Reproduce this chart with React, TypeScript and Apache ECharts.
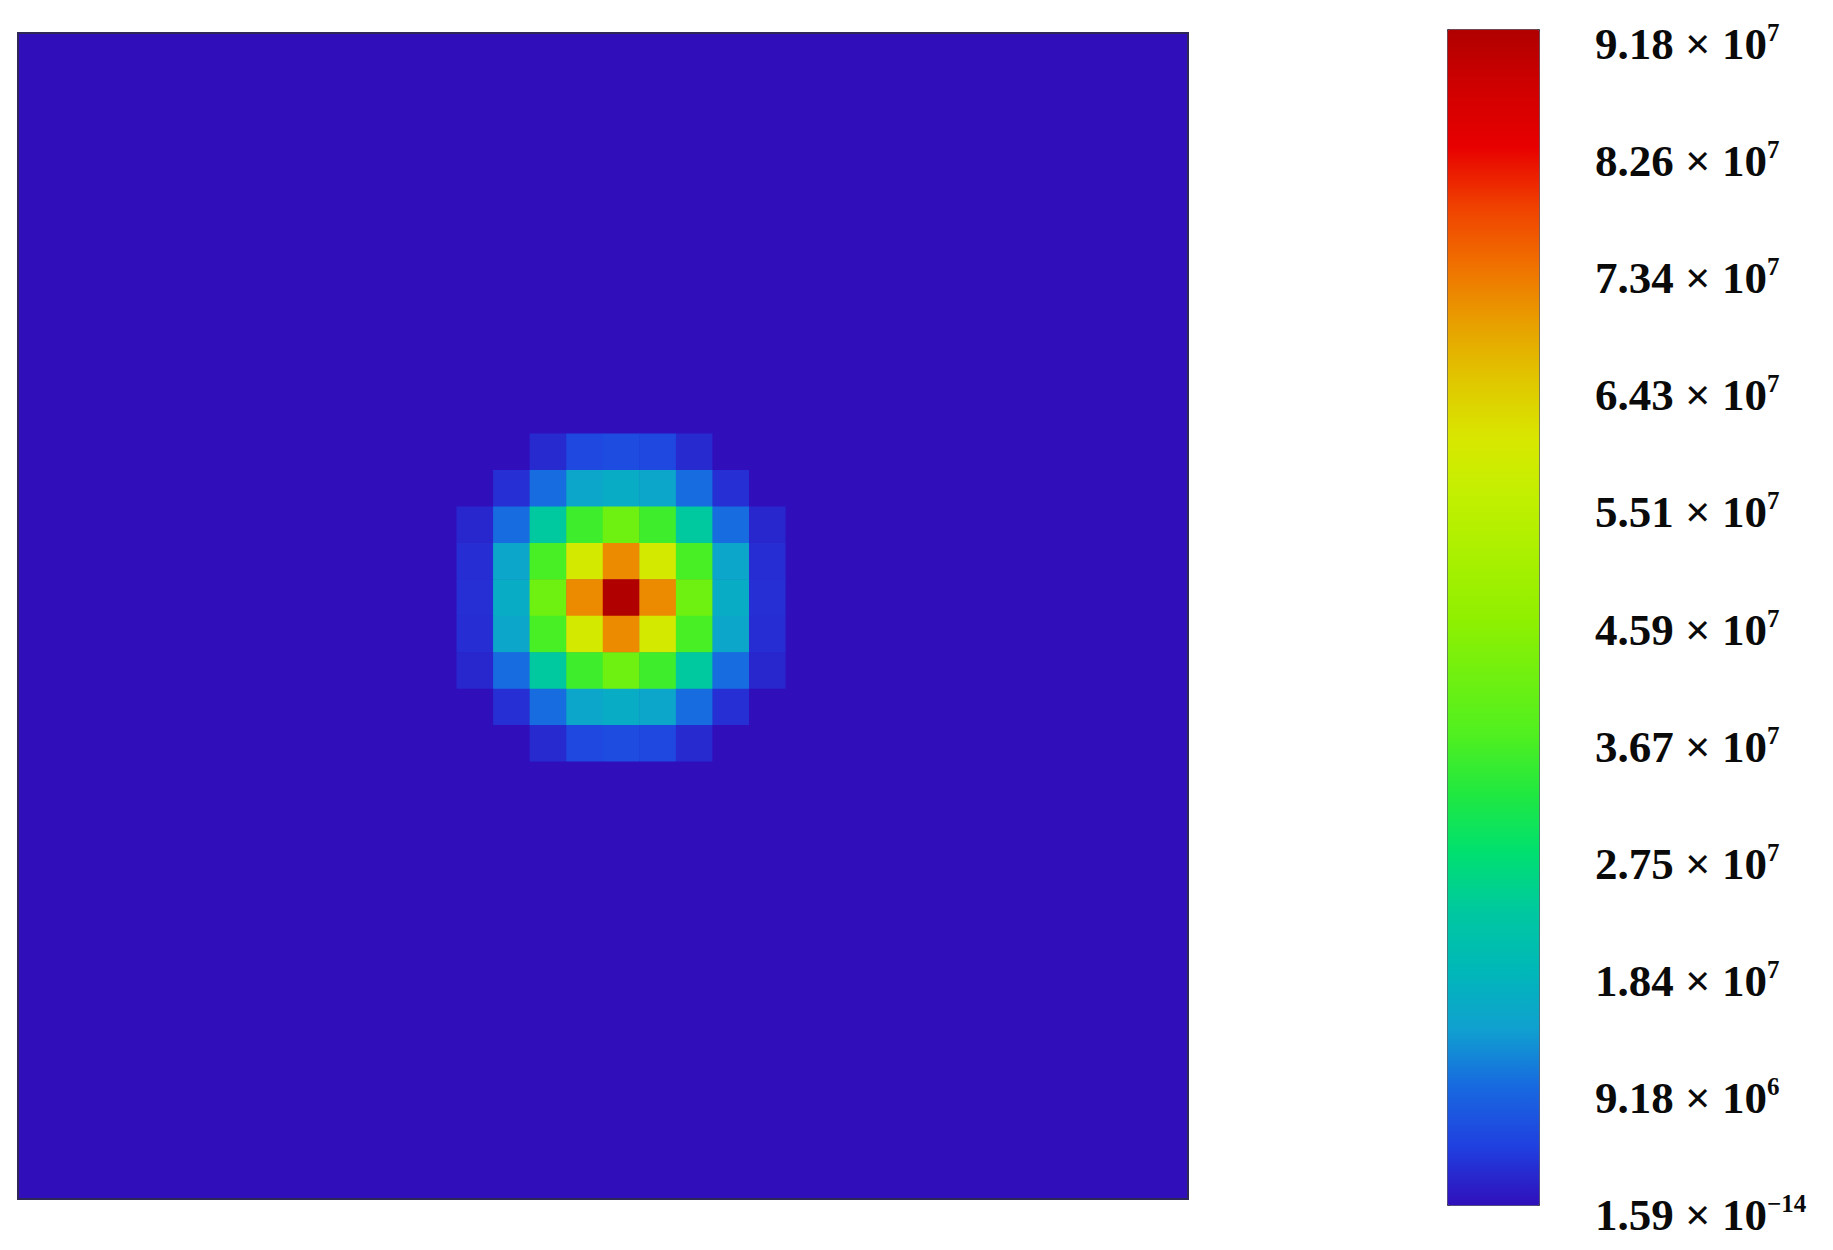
import React, { useEffect, useRef } from "react";
import * as echarts from "echarts";

// ---- data ----
const GRID_COLS = 32;
const GRID_ROWS = 32;
const BACKGROUND_VALUE = 1.59e-14; // minimum of the field
const MAX_VALUE = 9.18e7;
const BLOB_SCALE = 1e7;
// top-left cell (column index from left, row index from top) of the non-background block
const BLOB_COL0 = 12;
const BLOB_ROW0_FROM_TOP = 11;
// values in units of 1e7, rows listed top -> bottom, columns left -> right
const blobRow11 = [0, 0, 0.25, 0.55, 0.6, 0.55, 0.25, 0, 0];
const blobRow12 = [0, 0.3, 0.95, 1.5, 1.6, 1.5, 0.95, 0.3, 0];
const blobRow13 = [0.22, 0.95, 2.3, 3.5, 4.1, 3.5, 2.3, 0.95, 0.22];
const blobRow14 = [0.28, 1.5, 3.6, 5.9, 7.1, 5.9, 3.6, 1.5, 0.28];
const blobRow15 = [0.3, 1.6, 4.1, 7.1, 9.18, 7.1, 4.1, 1.6, 0.3];
const blobRow16 = [0.28, 1.5, 3.6, 5.9, 7.1, 5.9, 3.6, 1.5, 0.28];
const blobRow17 = [0.22, 0.95, 2.3, 3.5, 4.1, 3.5, 2.3, 0.95, 0.22];
const blobRow18 = [0, 0.3, 0.95, 1.5, 1.6, 1.5, 0.95, 0.3, 0];
const blobRow19 = [0, 0, 0.25, 0.55, 0.6, 0.55, 0.25, 0, 0];
const blobRows = [
  blobRow11, blobRow12, blobRow13, blobRow14, blobRow15,
  blobRow16, blobRow17, blobRow18, blobRow19,
];

// colour bar tick labels (bottom -> top)
const TICK_STEP = 9.18e6;
const tickMantissas = ["1.59", "9.18", "1.84", "2.75", "3.67", "4.59", "5.51", "6.43", "7.34", "8.26", "9.18"];
const tickExponents = ["\u221214", "6", "7", "7", "7", "7", "7", "7", "7", "7", "7"];

// colour map (evenly spaced from min to max)
const colorMap = [
  "#300fbb", "#2040e0", "#1868e0", "#10a0d0", "#00b8b8", "#00c8a0", "#00e070",
  "#20e840", "#50f020", "#70f010", "#90f000", "#a8f000", "#c0f000", "#d8e800",
  "#e0c800", "#e8a000", "#f07000", "#f04000", "#e80000", "#d00000", "#b00000",
];
const FIELD_BACKGROUND = colorMap[0];

const xCategories = Array.from({ length: GRID_COLS }, (_, i) => String(i));
const yCategories = Array.from({ length: GRID_ROWS }, (_, i) => String(i));

function buildHeatmapData(): [number, number, number][] {
  const out: [number, number, number][] = [];
  for (let rTop = 0; rTop < GRID_ROWS; rTop++) {
    for (let c = 0; c < GRID_COLS; c++) {
      let v = BACKGROUND_VALUE;
      const br = rTop - BLOB_ROW0_FROM_TOP;
      const bc = c - BLOB_COL0;
      if (br >= 0 && br < blobRows.length && bc >= 0 && bc < blobRows[br].length) {
        const b = blobRows[br][bc];
        if (b > 0) v = b * BLOB_SCALE;
      }
      out.push([c, GRID_ROWS - 1 - rTop, v]);
    }
  }
  return out;
}

const FONT = "'Liberation Serif', 'Times New Roman', serif";
const PLOT = { left: 18, top: 33, width: 1170, height: 1166 };

export default function App() {
  const ref = useRef<HTMLDivElement>(null);
  useEffect(() => {
    if (!ref.current) return;
    const chart = echarts.init(ref.current, undefined, { renderer: "svg" });
    chart.setOption({
      animation: false,
      backgroundColor: "#ffffff",
      grid: [
        // heatmap field (background under the cells)
        { ...PLOT, show: true, backgroundColor: FIELD_BACKGROUND, borderWidth: 0 },
        // colour bar labels
        { left: 1447, top: 44, width: 92, height: 1171 },
        // frame drawn over the cells
        {
          ...PLOT, show: true, z: 5, backgroundColor: "transparent",
          borderColor: "#2e2856", borderWidth: 2,
        },
      ],
      xAxis: [
        { type: "category", gridIndex: 0, data: xCategories, show: false },
        { type: "value", gridIndex: 1, show: false, min: 0, max: 1 },
        { type: "value", gridIndex: 2, show: false, min: 0, max: 1 },
      ],
      yAxis: [
        { type: "category", gridIndex: 0, data: yCategories, show: false },
        {
          type: "value", gridIndex: 1, position: "right",
          min: 0, max: MAX_VALUE, interval: TICK_STEP,
          axisLine: { show: false }, axisTick: { show: false }, splitLine: { show: false },
          axisLabel: {
            show: true, margin: 56, showMinLabel: true, showMaxLabel: true,
            formatter: (v: number) => {
              const i = Math.round(v / TICK_STEP);
              return `{m|${tickMantissas[i]} \u00d7 10}{e|${tickExponents[i]}}`;
            },
            rich: {
              m: { fontFamily: FONT, fontWeight: "bold", fontSize: 45, color: "#0a0a0a", lineHeight: 48 },
              e: { fontFamily: FONT, fontWeight: "bold", fontSize: 25, color: "#0a0a0a", lineHeight: 34, verticalAlign: "top" },
            },
          },
        },
        { type: "value", gridIndex: 2, show: false, min: 0, max: 1 },
      ],
      visualMap: {
        type: "continuous",
        seriesIndex: 0,
        min: BACKGROUND_VALUE,
        max: MAX_VALUE,
        calculable: false,
        hoverLink: false,
        left: 1447,
        top: 29,
        itemWidth: 92,
        itemHeight: 1176,
        padding: 0,
        borderColor: "#3a3a4a",
        borderWidth: 1,
        text: null,
        inRange: { color: colorMap },
      },
      series: [
        {
          type: "heatmap",
          xAxisIndex: 0,
          yAxisIndex: 0,
          data: buildHeatmapData(),
          itemStyle: { borderWidth: 0 },
          emphasis: { disabled: true },
        },
      ],
    });
    return () => chart.dispose();
  }, []);
  return (
    <div
      ref={ref}
      style={{ position: "fixed", left: 0, top: 0, width: 1833, height: 1250, background: "#fff" }}
    />
  );
}
